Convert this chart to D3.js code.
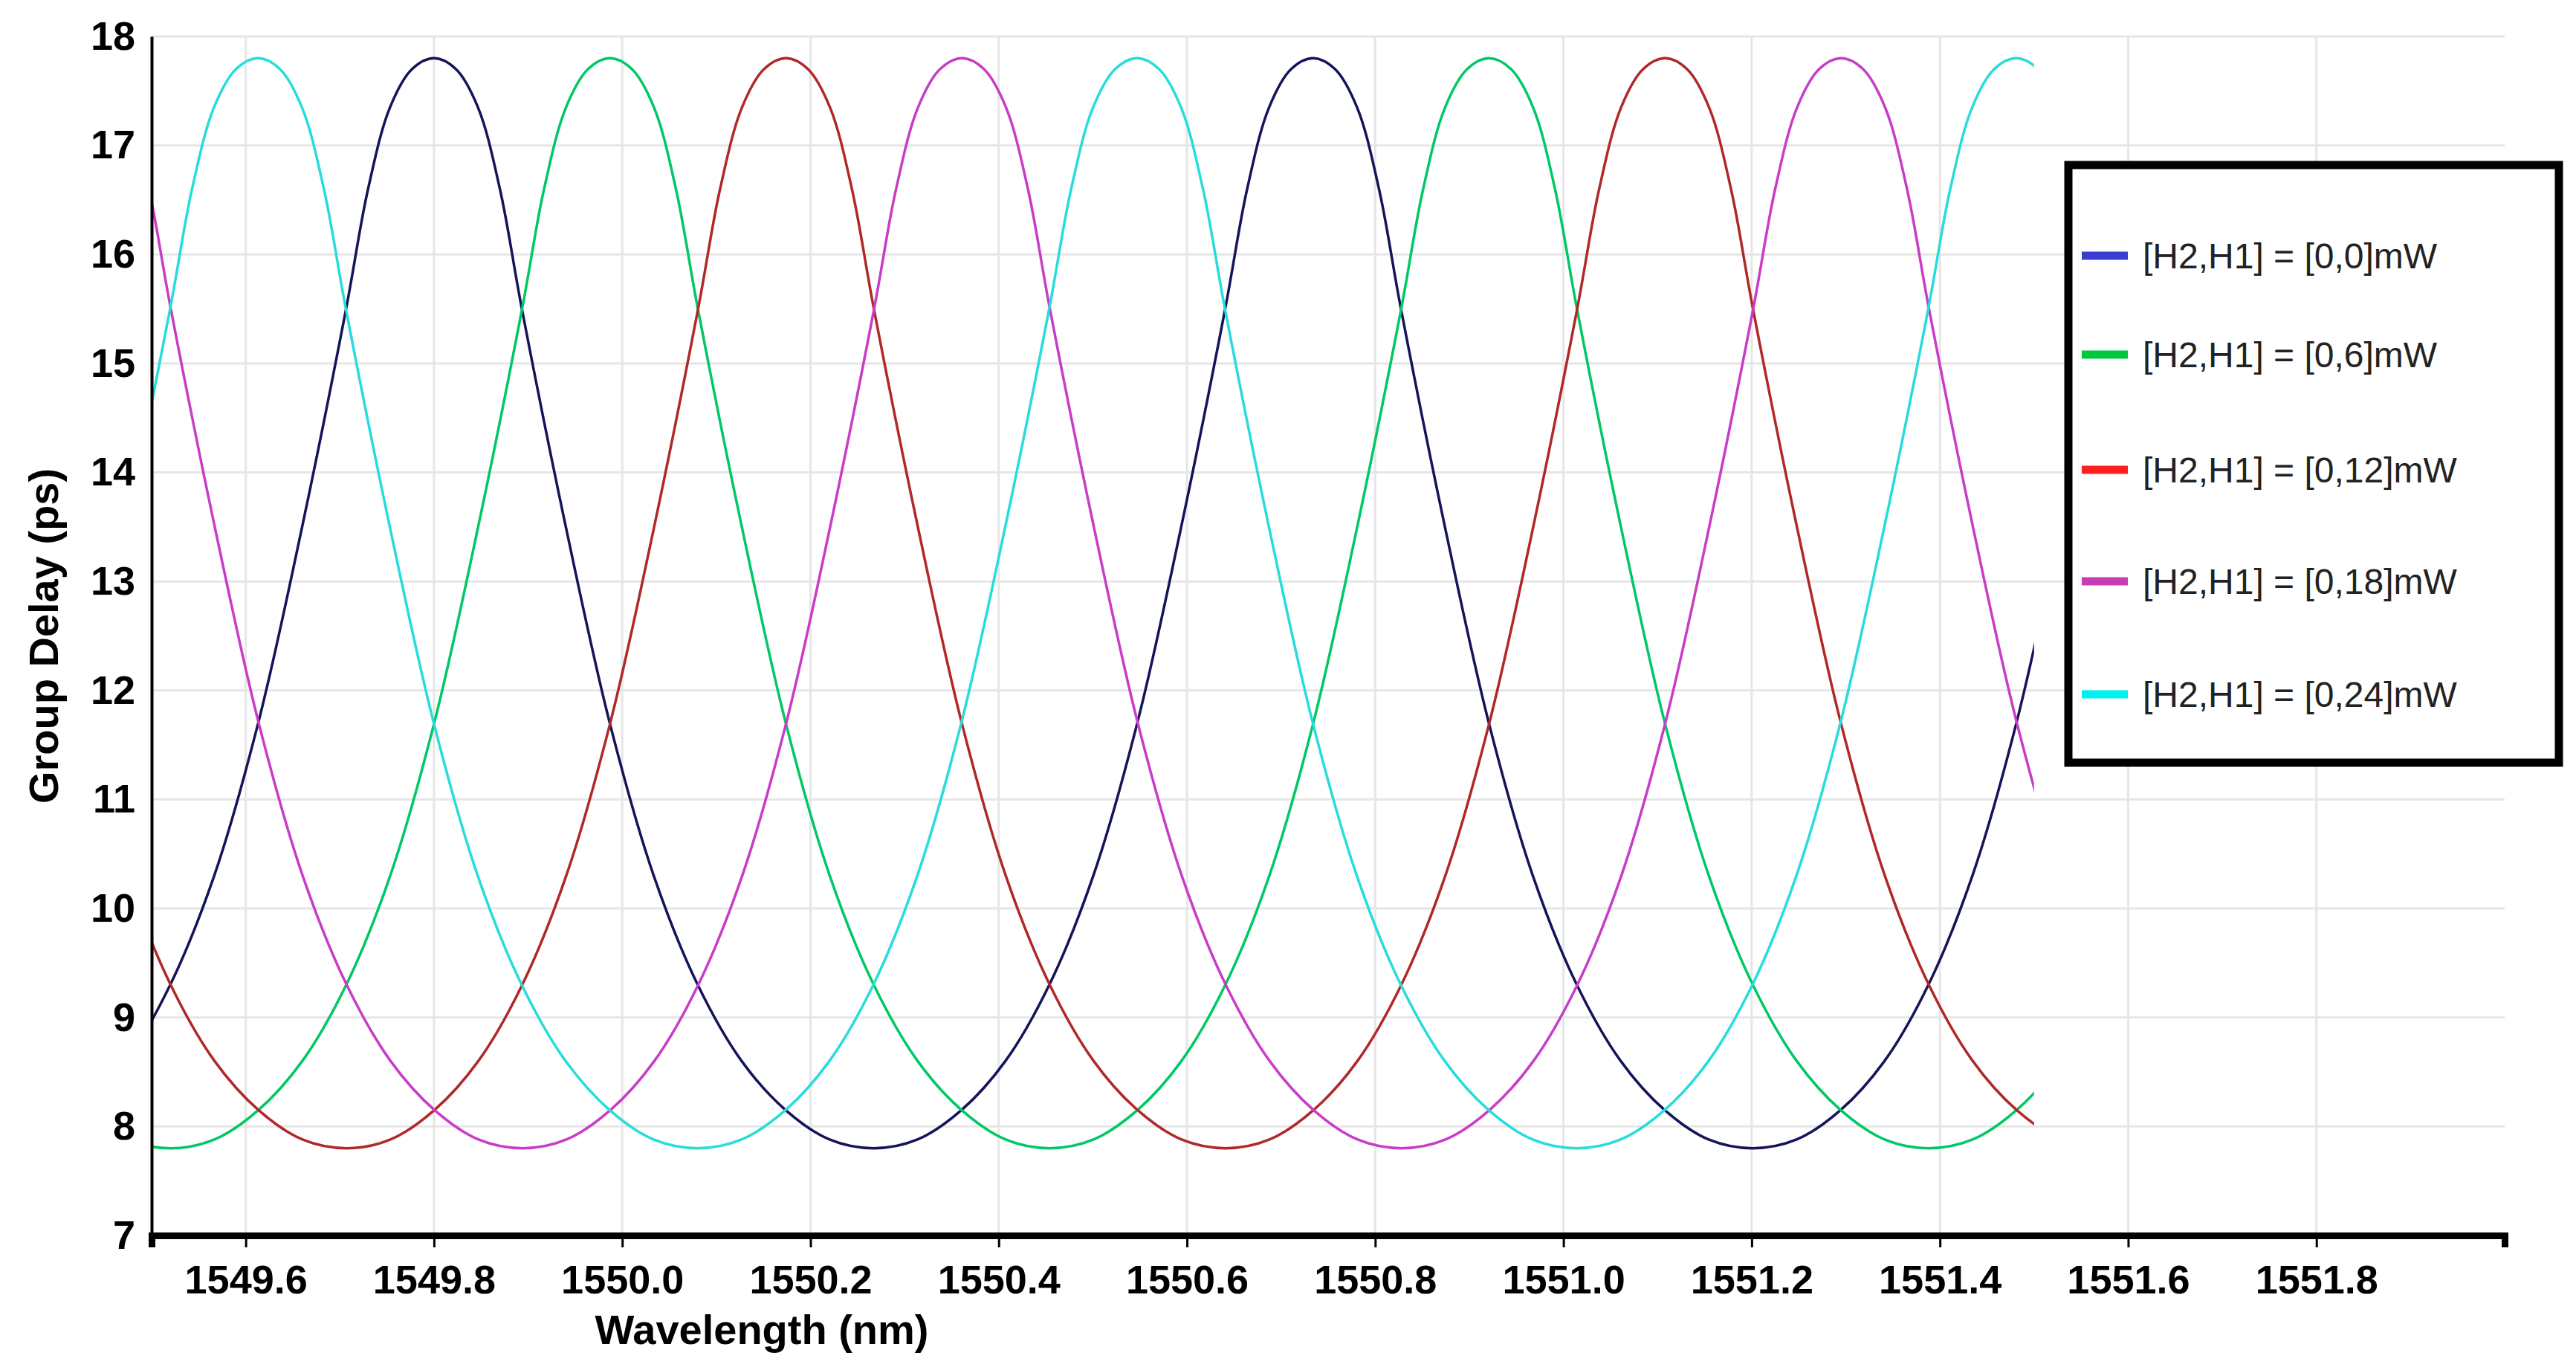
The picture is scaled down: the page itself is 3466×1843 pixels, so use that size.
<!DOCTYPE html>
<html><head><meta charset="utf-8">
<script src="https://cdn.jsdelivr.net/npm/d3@7"></script>
<style>body{margin:0;background:#fff}text{font-family:"Liberation Sans",Arial,sans-serif}</style>
</head><body>
<script>
// series names, colours and peak wavelengths (nm)
var names = ['[H2,H1] = [0,0]mW', '[H2,H1] = [0,6]mW', '[H2,H1] = [0,12]mW', '[H2,H1] = [0,18]mW', '[H2,H1] = [0,24]mW'];
var lineColors = ['#14145a', '#00c864', '#b02828', '#c83cc8', '#28dcdc'];
var swatchColors = ['#3c3cd2', '#00c83c', '#ff1e1e', '#c83cb4', '#00f0f0'];
var peaks = [1549.800, 1549.987, 1550.174, 1550.361, 1549.613];
var period = 0.934;
// delay (ps) vs distance from peak, in fractions of one period
var phase = [0, 0.025, 0.05, 0.075, 0.1, 0.15, 0.2, 0.25, 0.3, 0.35, 0.4, 0.45, 0.5];
var delay = [17.8, 17.7, 17.35, 16.6, 15.5, 13.5, 11.7, 10.3, 9.3, 8.6, 8.15, 7.88, 7.8];
var xTicks = [1549.6, 1549.8, 1550.0, 1550.2, 1550.4, 1550.6, 1550.8, 1551.0, 1551.2, 1551.4, 1551.6, 1551.8];
var yTicks = [7, 8, 9, 10, 11, 12, 13, 14, 15, 16, 17, 18];
var xStart = 1549.5, xEnd = 1551.5;

var W = 3466, H = 1843;
var m = {left: 204, right: 96, top: 49, bottom: 181};
var svg = d3.select('body').append('svg').attr('width', W).attr('height', H);
var x = d3.scaleLinear().domain([1549.5, 1552.0]).range([m.left, W - m.right]);
var y = d3.scaleLinear().domain([7, 18]).range([H - m.bottom, m.top]);

// grid
svg.append('g').selectAll('line').data(xTicks).enter().append('line')
	.attr('x1', d => x(d)).attr('x2', d => x(d)).attr('y1', m.top).attr('y2', H - m.bottom)
	.attr('stroke', '#e6e6e6').attr('stroke-width', 3);
svg.append('g').selectAll('line').data(yTicks).enter().append('line')
	.attr('x1', m.left).attr('x2', W - m.right).attr('y1', d => y(d)).attr('y2', d => y(d))
	.attr('stroke', '#e6e6e6').attr('stroke-width', 3);

// build points for each series from the period shape
function seriesPoints(pk) {
	var pts = [];
	for (var k = -3; k <= 3; k++) {
		var c = pk + k * period;
		for (var i = -phase.length + 1; i < phase.length; i++) {
			var j = Math.abs(i);
			if (i > 0 && j == phase.length - 1) continue;
			pts.push([c + Math.sign(i) * phase[j] * period, delay[j]]);
		}
	}
	pts.sort((a, b) => a[0] - b[0]);
	return pts;
}

svg.append('clipPath').attr('id', 'c').append('rect')
	.attr('x', x(xStart)).attr('y', 0).attr('width', x(xEnd) - x(xStart)).attr('height', H);
var line = d3.line().x(d => x(d[0])).y(d => y(d[1])).curve(d3.curveCatmullRom);
svg.append('g').attr('clip-path', 'url(#c)').selectAll('path').data(peaks).enter().append('path')
	.attr('d', d => line(seriesPoints(d).filter(p => p[0] > xStart - 0.3 && p[0] < xEnd + 0.3)))
	.attr('fill', 'none').attr('stroke', (d, i) => lineColors[i]).attr('stroke-width', 3.5);

// axes
var xAxis = svg.append('g').attr('transform', 'translate(0,' + (H - m.bottom) + ')')
	.call(d3.axisBottom(x).tickValues(xTicks).tickFormat(d3.format('.1f')).tickSize(16).tickPadding(24));
xAxis.select('.domain').attr('stroke-width', 9);
xAxis.selectAll('.tick line').attr('stroke-width', 3);
xAxis.selectAll('text').attr('font-size', 54).attr('font-weight', 'bold').attr('fill', '#000');
var yAxis = svg.append('g').attr('transform', 'translate(' + m.left + ',0)')
	.call(d3.axisLeft(y).tickValues(yTicks).tickSize(0).tickPadding(22));
yAxis.select('.domain').attr('stroke-width', 4);
yAxis.selectAll('text').attr('font-size', 54).attr('font-weight', 'bold').attr('fill', '#000');

svg.append('text').attr('x', 1025).attr('y', 1808).attr('text-anchor', 'middle')
	.attr('font-size', 56).attr('font-weight', 'bold').text('Wavelength (nm)');
svg.append('text').attr('transform', 'translate(78,' + ((m.top + H - m.bottom) / 2) + ') rotate(-90)')
	.attr('text-anchor', 'middle').attr('font-size', 56).attr('font-weight', 'bold').text('Group Delay (ps)');

// legend
var lg = svg.append('g').attr('transform', 'translate(2783,222)');
lg.append('rect').attr('width', 660).attr('height', 804).attr('fill', '#fff')
	.attr('stroke', '#000').attr('stroke-width', 11);
var items = lg.selectAll('g.item').data(names).enter().append('g')
	.attr('transform', (d, i) => 'translate(0,' + [122, 255, 410, 560, 712][i] + ')');
items.append('line').attr('x1', 18).attr('x2', 80).attr('y1', 0).attr('y2', 0)
	.attr('stroke', (d, i) => swatchColors[i]).attr('stroke-width', 11);
items.append('text').attr('x', 100).attr('y', 17).attr('font-size', 48).attr('fill', '#222').text(d => d);
</script>
</body></html>
